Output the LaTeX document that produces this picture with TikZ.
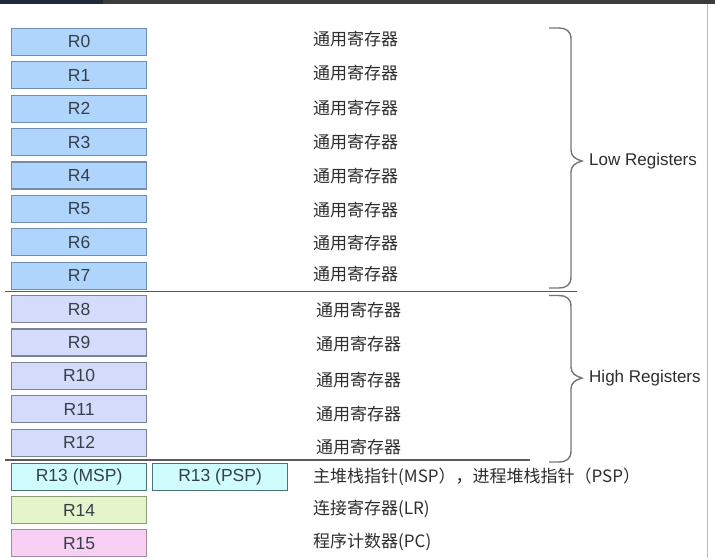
\documentclass[tikz,border=0pt]{standalone}
\usepackage{fontspec}
\setmainfont{Liberation Sans}
\newfontfamily\cjk{Noto Sans CJK SC}
\definecolor{lowfill}{HTML}{B0D5FC}
\definecolor{lowdraw}{HTML}{6F8DB3}
\definecolor{highfill}{HTML}{D5DCFB}
\definecolor{highdraw}{HTML}{7B8296}
\definecolor{cyfill}{HTML}{CFFCFC}
\definecolor{cydraw}{HTML}{4A737A}
\definecolor{grfill}{HTML}{E4F4CB}
\definecolor{grdraw}{HTML}{8C9C78}
\definecolor{pkfill}{HTML}{F7D0F4}
\definecolor{pkdraw}{HTML}{A48AA0}
\definecolor{labc}{HTML}{36404C}
\definecolor{txt}{HTML}{2E2E2E}
\definecolor{bracec}{HTML}{757575}
\definecolor{sepc}{HTML}{5A5A5A}
\definecolor{barc}{HTML}{3C3C3C}
\definecolor{barl}{HTML}{1F2B3A}
\definecolor{edgec}{HTML}{A8B9FF}
\begin{document}
\begin{tikzpicture}[x=1pt,y=-1pt,
  reg/.style={draw, line width=1.2pt, minimum width=135pt, minimum height=27pt, inner sep=0pt, anchor=north west, text=labc, font=\fontsize{17.5}{19}\selectfont},
  lowreg/.style={reg, fill=lowfill, draw=lowdraw},
  highreg/.style={reg, fill=highfill, draw=highdraw},
  cyreg/.style={reg, fill=cyfill, draw=cydraw},
  grreg/.style={reg, fill=grfill, draw=grdraw},
  pkreg/.style={reg, fill=pkfill, draw=pkdraw},
  desc/.style={anchor=west, inner sep=0pt, text=txt, font=\cjk\fontsize{17}{19}\selectfont},
  bracelab/.style={anchor=west, inner sep=0pt, text=txt, font=\fontsize{17}{19}\selectfont},
  bracepath/.style={draw=bracec, line width=1.4pt},
  sepline/.style={draw=sepc, line width=1.2pt}
]
\useasboundingbox (0,0) rectangle (715,558);
\fill[white] (0,0) rectangle (715,558);
% screenshot frame
\fill[barc] (0,0) rectangle (715,3.5);
\fill[barl] (0,0) rectangle (103,3.5);
\draw[edgec, line width=1pt] (707,3.5) -- (707,558);

% low registers
\foreach \i in {0,...,7} {
  \node[lowreg] (r\i) at (11,{27.7+33.4*\i}) {R\i};
}
% high registers
\foreach \i in {8,...,12} {
  \node[highreg] (r\i) at (11,{27.7+33.4*\i}) {R\i};
}
\node[cyreg] (r13m) at (11,462.5) {R13 (MSP)};
\node[cyreg] (r13p) at (152,462.5) {R13 (PSP)};
\node[grreg] (r14) at (11,496) {R14};
\node[pkreg] (r15) at (11,529) {R15};

% descriptions
\foreach \y [count=\k from 0] in {39,73,108,142,176,210,243,274} {
  \node[desc] (d\k) at (313,\y) {通用寄存器};
}
\foreach \y [count=\k from 8] in {310,344,380,414,447} {
  \node[desc] (d\k) at (316,\y) {通用寄存器};
}
\node[desc] (d13) at (313,477) {主堆栈指针(MSP），进程堆栈指针（PSP）};
\node[desc] (d14) at (313,509) {连接寄存器(LR)};
\node[desc] (d15) at (313,542) {程序计数器(PC)};

% separators
\draw[sepline] (5,291.5) -- (577,291.5);
\draw[sepline] (5,460) -- (530,460);

% braces
\draw[bracepath] (549,28) -- (559,28) .. controls (566,28) and (571,31) .. (571,39)
  -- (571,150) .. controls (571,156) and (575,159) .. (582,161)
  .. controls (575,163) and (571,166) .. (571,172)
  -- (571,277) .. controls (571,285) and (566,288) .. (559,288) -- (549,288);
\draw[bracepath] (549,295.5) -- (559,295.5) .. controls (566,295.5) and (571,298.5) .. (571,306.5)
  -- (571,367) .. controls (571,373) and (575,376) .. (582,378)
  .. controls (575,380) and (571,383) .. (571,389)
  -- (571,451) .. controls (571,459) and (566,462) .. (559,462) -- (549,462);
\node[bracelab] (low) at (589,161) {Low Registers};
\node[bracelab] (high) at (589,378) {High Registers};
\end{tikzpicture}
\end{document}
